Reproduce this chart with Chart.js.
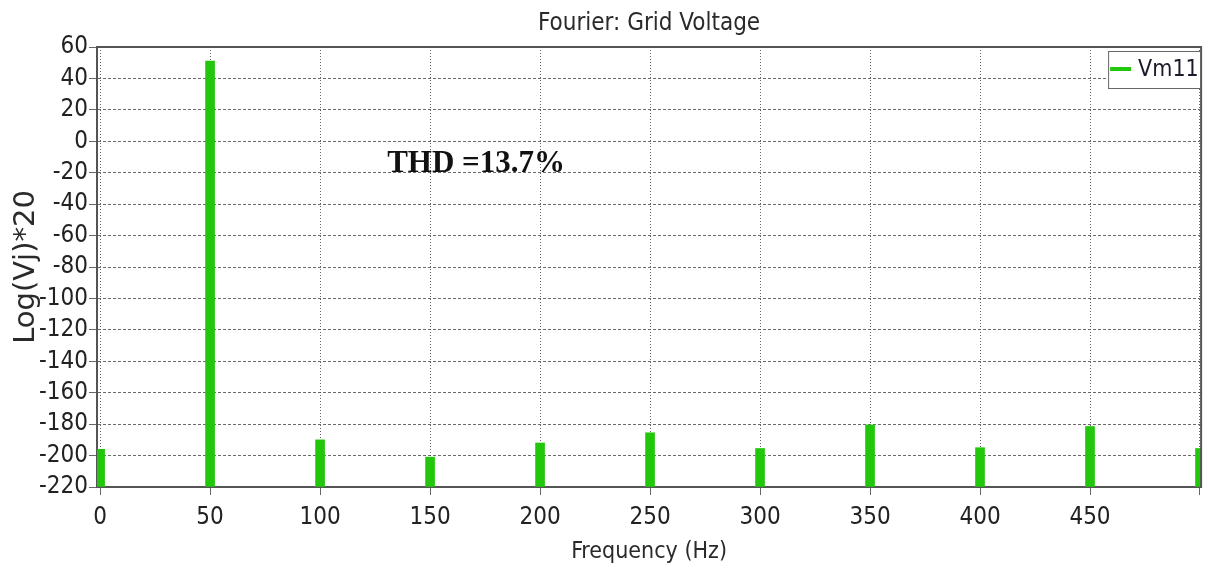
<!DOCTYPE html>
<html>
<head>
<meta charset="utf-8">
<script src="https://cdn.jsdelivr.net/npm/chart.js@4/dist/chart.umd.min.js"></script>
<style>
  html, body { margin: 0; padding: 0; background: #ffffff; }
  #wrap { width: 1208px; height: 572px; }
</style>
</head>
<body>
<div id="wrap"><canvas id="c" width="1208" height="572"></canvas></div>
<script>
// ---- data ----
const frequencies = [0, 50, 100, 150, 200, 250, 300, 350, 400, 450, 500];
const vm11 = [-196, 51, -190, -201, -192, -185.5, -195.5, -180.5, -195, -181.5, -195.5];
const xTicks = [0, 50, 100, 150, 200, 250, 300, 350, 400, 450, 500];
const xTickLabels = ['0', '50', '100', '150', '200', '250', '300', '350', '400', '450', ''];
const seriesName = 'Vm11';
const chartTitle = 'Fourier: Grid Voltage';
const xTitle = 'Frequency (Hz)';
const yTitle = 'Log(Vj)*20';
const thdText = 'THD =13.7%';

const FONT = "'DejaVu Sans Condensed', 'Liberation Sans Narrow', sans-serif";
const GREEN = '#22c70c';

const points = frequencies.map((f, i) => ({ x: f, y: vm11[i] }));

const extras = {
  id: 'extras',
  afterDraw(chart) {
    const { ctx, chartArea: a, scales } = chart;
    ctx.save();
    // chart title, centred over the plot area
    ctx.fillStyle = '#2a2a2a';
    ctx.font = '24px ' + FONT;
    ctx.textAlign = 'center';
    ctx.textBaseline = 'middle';
    ctx.fillText(chartTitle, (a.left + a.right) / 2, 24);

    // top and right frame lines
    ctx.strokeStyle = '#555';
    ctx.lineWidth = 2;
    ctx.beginPath();
    ctx.moveTo(a.left, a.top);
    ctx.lineTo(a.right, a.top);
    ctx.lineTo(a.right, a.bottom);
    ctx.stroke();

    // THD annotation
    ctx.fillStyle = '#111';
    ctx.font = "bold 31px 'Liberation Serif', 'DejaVu Serif', serif";
    ctx.textBaseline = 'alphabetic';
    ctx.textAlign = 'left';
    ctx.fillText(thdText, scales.x.getPixelForValue(130.5), scales.y.getPixelForValue(-19.6));

    // legend box
    const bw = 92, bh = 37;
    const bx = a.right - 1 - bw, by = a.top + 4;
    ctx.fillStyle = '#fff';
    ctx.fillRect(bx, by, bw, bh);
    ctx.strokeStyle = '#666';
    ctx.lineWidth = 1;
    ctx.strokeRect(bx + 0.5, by + 0.5, bw, bh);
    ctx.strokeStyle = GREEN;
    ctx.lineWidth = 4;
    ctx.beginPath();
    ctx.moveTo(bx + 2, by + 18);
    ctx.lineTo(bx + 23, by + 18);
    ctx.stroke();
    ctx.fillStyle = '#1a1a2a';
    ctx.font = '23px ' + FONT;
    ctx.textBaseline = 'middle';
    ctx.fillText(seriesName, bx + 30, by + 19);
    ctx.restore();
  }
};

new Chart(document.getElementById('c'), {
  type: 'bar',
  data: {
    datasets: [{
      label: seriesName,
      data: points,
      backgroundColor: GREEN,
      borderWidth: 0,
      barThickness: 9,
      base: -220,
      clip: 0
    }]
  },
  options: {
    responsive: false,
    animation: false,
    devicePixelRatio: 1,
    layout: { padding: { left: 0, right: 1, top: 47, bottom: 0 } },
    plugins: {
      legend: { display: false },
      tooltip: { enabled: false },
      title: { display: false }
    },
    scales: {
      x: {
        type: 'linear',
        min: -1.4,
        max: 500.5,
        offset: false,
        afterBuildTicks(scale) { scale.ticks = xTicks.map(v => ({ value: v })); },
        afterFit(scale) { scale.height = 85; },
        ticks: {
          autoSkip: false,
          maxRotation: 0,
          color: '#222',
          padding: 8,
          font: { family: FONT, size: 24 },
          callback(value) { const i = xTicks.indexOf(value); return i >= 0 ? xTickLabels[i] : ''; }
        },
        grid: {
          offset: false,
          color: 'rgba(60,60,60,0.8)',
          lineWidth: 1,
          drawTicks: true,
          tickLength: 8,
          tickColor: '#666',
          tickBorderDash: [],
          tickWidth: 1
        },
        border: { display: true, color: '#555', width: 2, dash: [1, 2] },
        title: {
          display: true,
          text: xTitle,
          color: '#2a2a2a',
          font: { family: FONT, size: 23 },
          padding: { top: 0, bottom: 6 }
        }
      },
      y: {
        type: 'linear',
        min: -220,
        max: 60,
        afterFit(scale) { scale.width = 97; },
        ticks: {
          stepSize: 20,
          autoSkip: false,
          color: '#222',
          padding: 1,
          font: { family: FONT, size: 24 }
        },
        grid: {
          color: 'rgba(70,70,70,0.8)',
          lineWidth: 1,
          drawTicks: true,
          tickLength: 8,
          tickColor: '#666',
          tickBorderDash: [],
          tickWidth: 1
        },
        border: { display: true, color: '#555', width: 2, dash: [3, 2] },
        title: {
          display: true,
          text: yTitle,
          color: '#2a2a2a',
          font: { family: "'DejaVu Sans', sans-serif", size: 29 },
          padding: { top: 9, bottom: 0 }
        }
      }
    }
  },
  plugins: [extras]
});
</script>
</body>
</html>
